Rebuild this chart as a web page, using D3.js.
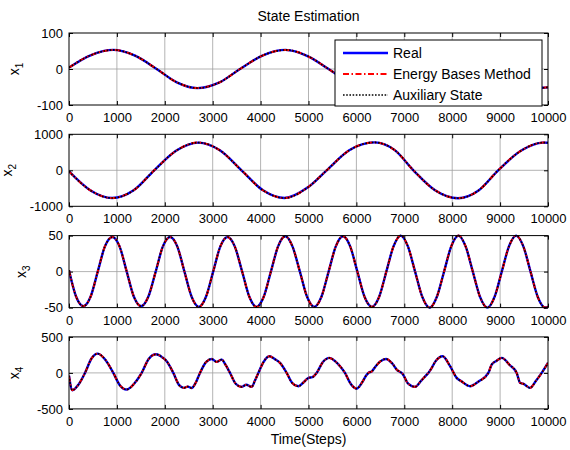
<!DOCTYPE html>
<html>
<head>
<meta charset="utf-8">
<script src="https://cdn.jsdelivr.net/npm/d3@7/dist/d3.min.js"></script>
<style>
  body { margin: 0; background: #fff; }
  text { font-family: "Liberation Sans", Arial, sans-serif; fill: #000; }
</style>
</head>
<body>
<div id="chart"></div>
<script>
// values
const xTicks = [0, 1000, 2000, 3000, 4000, 5000, 6000, 7000, 8000, 9000, 10000];
const seriesNames = ['Real', 'Energy Bases Method', 'Auxiliary State'];

const x1Ticks = [-100, 0, 100];
const x1Steps = [0, 450, 925, 1380, 1830, 2250, 2680, 3130, 3570, 4050, 4520, 4980, 5420,
  5850, 6300, 6750, 7200, 7650, 8100, 8550, 9000, 9450, 9900, 10000];
const x1Values = [4, 38, 53, 37, 0, -37, -53, -38, 0, 38, 53, 36, 0,
  -37, -52, -37, 0, 37, 52, 37, 0, -37, -52, -51];

const x2Ticks = [-1000, 0, 1000];
const x2Steps = [0, 450, 900, 1350, 1780, 2250, 2700, 3150, 3600, 4050, 4500, 4980, 5380,
  5850, 6380, 6800, 7190, 7650, 8120, 8550, 8960, 9450, 9900, 10000];
const x2Values = [-30, -560, -770, -555, 0, 555, 770, 555, 0, -555, -770, -480, 0,
  555, 775, 560, 0, -560, -775, -560, 0, 555, 770, 765];

const x3Ticks = [-50, 0, 50];
const x3Steps = [0, 150, 300, 450, 600, 750, 905, 1055, 1205, 1355, 1505, 1655, 1810, 1960,
  2110, 2260, 2410, 2560, 2710, 2860, 3010, 3160, 3310, 3460, 3615, 3765, 3915, 4065,
  4215, 4365, 4515, 4665, 4820, 4970, 5120, 5270, 5420, 5570, 5720, 5870, 6020, 6170,
  6325, 6475, 6625, 6775, 6925, 7075, 7225, 7375, 7530, 7680, 7830, 7980, 8130, 8280,
  8430, 8580, 8735, 8885, 9035, 9185, 9335, 9485, 9635, 9785, 9940, 10000];
const x3Values = [2, -35, -48, -35, 0, 35, 48, 35, 0, -35, -48, -35, 0, 35,
  48, 35, 0, -35, -49, -35, 0, 35, 48, 35, 0, -35, -49, -35,
  0, 35, 49, 35, 0, -35, -49, -35, 0, 35, 49, 35, 0, -35,
  -49, -35, 0, 35, 50, 35, 0, -35, -50, -35, 0, 35, 50, 35,
  0, -35, -50, -35, 0, 35, 50, 35, 0, -35, -50, -49];

const x4Ticks = [-500, 0, 500];
const x4Steps = [0, 70, 200, 334, 470, 600, 750, 925, 1060, 1204, 1360, 1517, 1660, 1816,
  1950, 2039, 2178, 2300, 2400, 2480, 2560, 2650, 2735, 2860, 2978, 3083, 3187, 3270,
  3361, 3480, 3605, 3700, 3813, 3880, 3953, 4060, 4182, 4300, 4405, 4544, 4660, 4788,
  4900, 5000, 5080, 5170, 5300, 5435, 5560, 5658, 5762, 5880, 6005, 6130, 6200, 6260,
  6320, 6400, 6500, 6618, 6750, 6850, 6910, 6960, 7080, 7223, 7350, 7460, 7502, 7560,
  7650, 7801, 7950, 8093, 8200, 8372, 8550, 8755, 8824, 8930, 9033, 9200, 9346, 9420,
  9480, 9624, 9750, 9868, 10000];
const x4Values = [-40, -240, -160, 0, 200, 268, 190, 0, -170, -231, -150, 0, 190, 259,
  215, 162, 0, -170, -208, -190, -210, -130, 0, 150, 194, 153, 185, 110,
  0, -150, -194, -165, -194, -110, 0, 150, 231, 190, 139, 0, -140, -185,
  -130, -69, -60, 0, 150, 208, 160, 93, 0, -150, -218, -120, -40, 5,
  20, 90, 160, 194, 130, 40, 14, -10, -150, -194, -110, -30, 0, 55,
  160, 231, 100, -69, -120, -185, -120, 0, 116, 170, 208, 110, 0, -140,
  -150, -208, -110, 0, 139];

const panels = [
  { sub: '1', steps: x1Steps, values: x1Values, ticks: x1Ticks },
  { sub: '2', steps: x2Steps, values: x2Values, ticks: x2Ticks },
  { sub: '3', steps: x3Steps, values: x3Values, ticks: x3Ticks },
  { sub: '4', steps: x4Steps, values: x4Values, ticks: x4Ticks }
];

const width = 570, height = 450;
const left = 69, right = 548;
const firstTop = 33, pitch = 101.3, panelH = 72;
const plain = d => String(d); // MATLAB-like labels: no thousands comma, ascii minus

const svg = d3.select('#chart').append('svg')
  .attr('width', width)
  .attr('height', height);

svg.append('rect').attr('width', width).attr('height', height).attr('fill', '#fff');

const x = d3.scaleLinear().domain([0, 10000]).range([left, right]);

// line styles for the three overlapping estimates
const styles = [
  { color: '#0000ff', width: 2.4, dash: null },
  { color: '#ff0000', width: 2, dash: '6,2.5,1.5,2.5' },
  { color: '#000000', width: 1.6, dash: '1.6,1.6' }
];

panels.forEach((p, i) => {
  const top = firstTop + i * pitch;
  const y = d3.scaleLinear().domain([p.ticks[0], p.ticks[2]]).range([top + panelH, top]);
  const g = svg.append('g');

  // grid
  g.append('g').selectAll('line').data(xTicks.slice(1, -1)).enter().append('line')
    .attr('x1', d => x(d)).attr('x2', d => x(d))
    .attr('y1', top).attr('y2', top + panelH)
    .attr('stroke', '#a0a0a0').attr('stroke-width', 0.8);
  g.append('line')
    .attr('x1', left).attr('x2', right)
    .attr('y1', y(0)).attr('y2', y(0))
    .attr('stroke', '#a0a0a0').attr('stroke-width', 0.8);

  // curves
  const clipId = 'clip' + i;
  svg.append('clipPath').attr('id', clipId).append('rect')
    .attr('x', left).attr('y', top - 1.5).attr('width', right - left).attr('height', panelH + 3);

  const pts = p.steps.map((s, k) => [s, p.values[k]]);
  const line = d3.line().x(d => x(d[0])).y(d => y(d[1])).curve(d3.curveMonotoneX);
  styles.forEach(st => {
    g.append('path')
      .datum(pts)
      .attr('clip-path', `url(#${clipId})`)
      .attr('d', line)
      .attr('fill', 'none')
      .attr('stroke', st.color)
      .attr('stroke-width', st.width)
      .attr('stroke-dasharray', st.dash);
  });

  // axes (MATLAB style: ticks inside, on all four sides)
  const tickLen = 4;
  const axB = g.append('g').attr('transform', `translate(0,${top + panelH})`)
    .call(d3.axisBottom(x).tickValues(xTicks).tickFormat(plain)
      .tickSizeInner(-tickLen).tickSizeOuter(0).tickPadding(6));
  const axT = g.append('g').attr('transform', `translate(0,${top})`)
    .call(d3.axisTop(x).tickValues(xTicks).tickSizeInner(-tickLen).tickSizeOuter(0).tickFormat(''));
  const axL = g.append('g').attr('transform', `translate(${left},0)`)
    .call(d3.axisLeft(y).tickValues(p.ticks).tickFormat(plain)
      .tickSizeInner(-tickLen).tickSizeOuter(0).tickPadding(6));
  const axR = g.append('g').attr('transform', `translate(${right},0)`)
    .call(d3.axisRight(y).tickValues(p.ticks).tickSizeInner(-tickLen).tickSizeOuter(0).tickFormat(''));
  [axB, axT, axL, axR].forEach(a => {
    a.select('.domain').remove();
    a.selectAll('line').attr('stroke', '#000');
    a.selectAll('text').style('font-family', '"Liberation Sans", Arial, sans-serif')
      .style('font-size', '13px').attr('fill', '#000');
  });
  axB.selectAll('text').attr('dy', null).attr('y', 17);

  g.append('rect')
    .attr('x', left).attr('y', top).attr('width', right - left).attr('height', panelH)
    .attr('fill', 'none').attr('stroke', '#000').attr('stroke-width', 1);

  // y label, placed clear of the tick labels
  let tw = 0;
  axL.selectAll('text').each(function () { tw = Math.max(tw, this.getBBox().width); });
  const lx = left - 6 - tw - 18;
  const lab = svg.append('text')
    .attr('transform', `translate(${lx},${top + panelH / 2}) rotate(-90)`)
    .attr('text-anchor', 'middle')
    .style('font-size', '14px');
  lab.append('tspan').text('x');
  lab.append('tspan').attr('dy', 4).style('font-size', '10px').text(p.sub);
});

// title and x label
svg.append('text')
  .attr('x', (left + right) / 2).attr('y', 21)
  .attr('text-anchor', 'middle').style('font-size', '14px')
  .text('State Estimation');
svg.append('text')
  .attr('x', (left + right) / 2).attr('y', 444)
  .attr('text-anchor', 'middle').style('font-size', '14px')
  .text('Time(Steps)');

// legend in the first panel
const lg = svg.append('g').attr('transform', 'translate(335,40)');
lg.append('rect').attr('width', 207).attr('height', 66)
  .attr('fill', '#fff').attr('stroke', '#000').attr('stroke-width', 1);
seriesNames.forEach((name, k) => {
  const yy = 13 + k * 21;
  const st = styles[k];
  lg.append('line')
    .attr('x1', 8).attr('x2', 53).attr('y1', yy).attr('y2', yy)
    .attr('stroke', st.color).attr('stroke-width', st.width)
    .attr('stroke-dasharray', st.dash);
  lg.append('text')
    .attr('x', 58).attr('y', yy + 5)
    .style('font-size', '14px')
    .text(name);
});
</script>
</body>
</html>
